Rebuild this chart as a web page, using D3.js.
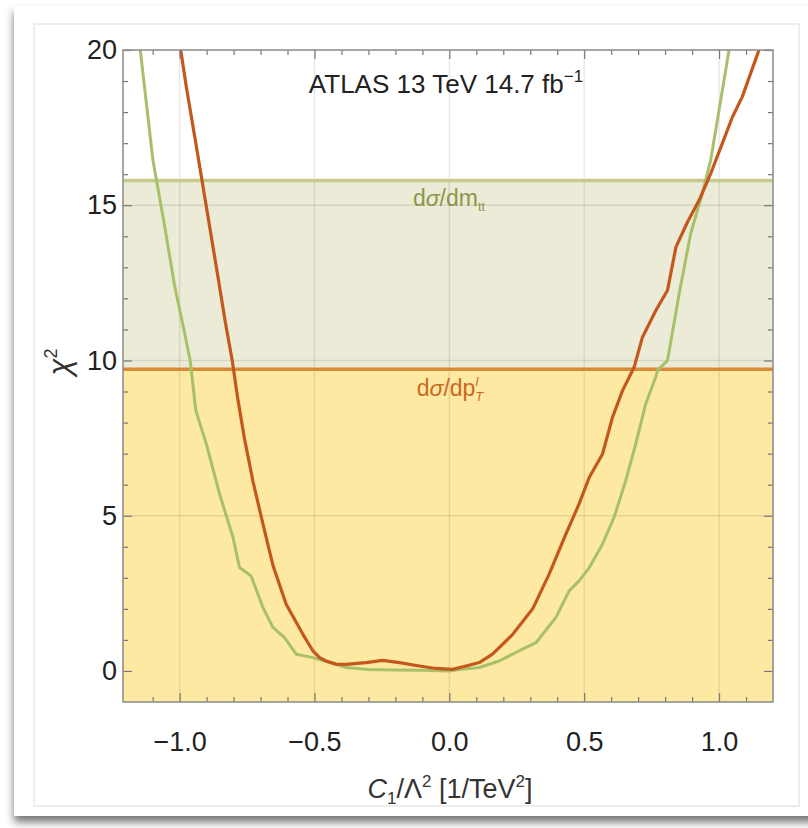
<!DOCTYPE html>
<html>
<head>
<meta charset="utf-8">
<script src="https://cdn.jsdelivr.net/npm/d3@7"></script>
<style>
  body { margin: 0; background: #ffffff; }
  svg text { font-family: "Liberation Sans", Arial, sans-serif; }
</style>
</head>
<body>
<div id="chart"></div>
<script>
// chi^2 scan vs C1/Lambda^2 for two ATLAS distributions

// dsigma/dp_T^l (orange)
var ptX = [-0.996, -0.975, -0.94, -0.9, -0.86, -0.83, -0.805, -0.785, -0.76, -0.728,
           -0.691, -0.654, -0.605, -0.543, -0.506, -0.481, -0.457, -0.42, -0.383, -0.309,
           -0.247, -0.185, -0.111, -0.05, 0.012, 0.062, 0.111, 0.16, 0.235, 0.309,
           0.37, 0.432, 0.481, 0.519, 0.568, 0.605, 0.642, 0.685, 0.716, 0.765,
           0.809, 0.84, 0.883, 0.926, 0.969, 1.05, 1.086, 1.148];
var ptChi2 = [20, 18.8, 17.0, 14.9, 12.8, 11.2, 10.0, 8.8, 7.5, 6.1,
              4.73, 3.4, 2.15, 1.18, 0.65, 0.43, 0.32, 0.22, 0.21, 0.27,
              0.34, 0.27, 0.16, 0.08, 0.05, 0.16, 0.27, 0.54, 1.18, 2.0,
              3.12, 4.41, 5.38, 6.24, 6.99, 8.17, 9.03, 9.78, 10.75, 11.6,
              12.26, 13.65, 14.46, 15.16, 16.02, 17.85, 18.49, 20];

// dsigma/dm_tt (green)
var mttX = [-1.146, -1.099, -1.056, -1.019, -0.981, -0.961, -0.94, -0.901, -0.852, -0.802,
            -0.778, -0.735, -0.691, -0.654, -0.611, -0.568, -0.506, -0.444, -0.383, -0.3,
            -0.2, -0.1, 0.0, 0.037, 0.111, 0.185, 0.259, 0.321, 0.395, 0.444,
            0.481, 0.519, 0.568, 0.611, 0.654, 0.691, 0.728, 0.765, 0.772, 0.809,
            0.852, 0.895, 0.938, 0.969, 1.037];
var mttChi2 = [20, 16.45, 14.35, 12.42, 10.86, 10.0, 8.39, 7.31, 5.7, 4.3,
               3.33, 3.06, 2.04, 1.4, 1.07, 0.54, 0.43, 0.27, 0.11, 0.05,
               0.03, 0.02, 0.0, 0.05, 0.11, 0.32, 0.65, 0.91, 1.72, 2.58,
               2.9, 3.33, 4.09, 4.95, 6.13, 7.31, 8.6, 9.46, 9.68, 10.0,
               12.15, 14.09, 15.38, 16.45, 20];

// exclusion thresholds
var bandNames = ["mtt", "pt"];
var bandLimits = [15.8, 9.72];

var xMajor = [-1.0, -0.5, 0.0, 0.5, 1.0];
var xMinor = [-1.1, -0.9, -0.8, -0.7, -0.6, -0.4, -0.3, -0.2, -0.1,
              0.1, 0.2, 0.3, 0.4, 0.6, 0.7, 0.8, 0.9, 1.1];
var yMajor = [0, 5, 10, 15, 20];
var yMinor = [1, 2, 3, 4, 6, 7, 8, 9, 11, 12, 13, 14, 16, 17, 18, 19];

var W = 808, H = 828;
var pLeft = 123, pRight = 773, pTop = 50, pBottom = 702;

var svg = d3.select("#chart").append("svg")
    .attr("width", W).attr("height", H);

// card with shadow
var defs = svg.append("defs");
var f = defs.append("filter").attr("id", "shadow")
    .attr("x", "-5%").attr("y", "-5%").attr("width", "110%").attr("height", "110%");
f.append("feDropShadow").attr("dx", 0).attr("dy", 6).attr("stdDeviation", 4)
    .attr("flood-color", "#000").attr("flood-opacity", 0.55);
defs.append("clipPath").attr("id", "plotclip").append("rect")
    .attr("x", pLeft).attr("y", pTop).attr("width", pRight - pLeft).attr("height", pBottom - pTop);

svg.append("rect").attr("x", 14).attr("y", 6).attr("width", 820).attr("height", 810)
    .attr("fill", "#fff").attr("filter", "url(#shadow)");
svg.append("rect").attr("x", 34).attr("y", 24).attr("width", 765).attr("height", 782)
    .attr("fill", "none").attr("stroke", "#e2e2e2").attr("stroke-width", 1.2);

var x = d3.scaleLinear().domain([-1.21, 1.2]).range([pLeft, pRight]);
var y = d3.scaleLinear().domain([-1, 20]).range([pBottom, pTop]);

var plot = svg.append("g").attr("clip-path", "url(#plotclip)");

// shaded regions
plot.append("rect").attr("x", pLeft).attr("width", pRight - pLeft)
    .attr("y", y(bandLimits[0])).attr("height", y(bandLimits[1]) - y(bandLimits[0]))
    .attr("fill", "#ecebd8");
plot.append("rect").attr("x", pLeft).attr("width", pRight - pLeft)
    .attr("y", y(bandLimits[1])).attr("height", pBottom - y(bandLimits[1]))
    .attr("fill", "#fee9a3");

// grid
plot.selectAll(".vgrid").data(xMajor).enter().append("line")
    .attr("x1", d => x(d)).attr("x2", d => x(d)).attr("y1", pTop).attr("y2", pBottom)
    .attr("stroke", "rgba(0,0,0,0.09)").attr("stroke-width", 1.5);
plot.selectAll(".hgrid").data([5, 10, 15]).enter().append("line")
    .attr("y1", d => y(d)).attr("y2", d => y(d)).attr("x1", pLeft).attr("x2", pRight)
    .attr("stroke", "rgba(0,0,0,0.09)").attr("stroke-width", 1.5);

// threshold lines
var bandColors = ["#c8c98a", "#da8a37"];
plot.selectAll(".limit").data(bandLimits).enter().append("line")
    .attr("y1", d => y(d)).attr("y2", d => y(d)).attr("x1", pLeft).attr("x2", pRight)
    .attr("stroke", (d, i) => bandColors[i]).attr("stroke-width", 3.5);

// curves
var line = d3.line().x(d => x(d[0])).y(d => y(d[1]));
plot.append("path").datum(d3.zip(mttX, mttChi2))
    .attr("d", line).attr("fill", "none")
    .attr("stroke", "#a8c068").attr("stroke-width", 3).attr("stroke-linejoin", "round");
plot.append("path").datum(d3.zip(ptX, ptChi2))
    .attr("d", line).attr("fill", "none")
    .attr("stroke", "#c4581c").attr("stroke-width", 3.2).attr("stroke-linejoin", "round");

// frame ticks (inward), all four sides
var tickCol = "#777";
function styleAxis(g) {
    g.select(".domain").remove();
    g.selectAll(".tick line").attr("stroke", tickCol).attr("stroke-width", 1.2);
}
var fmtX = d3.format(".1f");
var gx = svg.append("g").attr("transform", "translate(0," + pBottom + ")")
    .call(d3.axisBottom(x).tickValues(xMajor).tickSize(-9).tickPadding(30).tickFormat(fmtX));
styleAxis(gx);
gx.selectAll(".tick text").attr("font-size", 27).attr("fill", "#222");
svg.append("g").attr("transform", "translate(0," + pBottom + ")")
    .call(d3.axisBottom(x).tickValues(xMinor).tickSize(-5).tickFormat("")).call(styleAxis);
svg.append("g").attr("transform", "translate(0," + pTop + ")")
    .call(d3.axisTop(x).tickValues(xMajor).tickSize(-9).tickFormat("")).call(styleAxis);
svg.append("g").attr("transform", "translate(0," + pTop + ")")
    .call(d3.axisTop(x).tickValues(xMinor).tickSize(-5).tickFormat("")).call(styleAxis);

var gy = svg.append("g").attr("transform", "translate(" + pLeft + ",0)")
    .call(d3.axisLeft(y).tickValues(yMajor).tickSize(-9).tickPadding(6));
styleAxis(gy);
gy.selectAll(".tick text").attr("font-size", 27).attr("fill", "#222");
svg.append("g").attr("transform", "translate(" + pLeft + ",0)")
    .call(d3.axisLeft(y).tickValues(yMinor).tickSize(-5).tickFormat("")).call(styleAxis);
svg.append("g").attr("transform", "translate(" + pRight + ",0)")
    .call(d3.axisRight(y).tickValues(yMajor).tickSize(-9).tickFormat("")).call(styleAxis);
svg.append("g").attr("transform", "translate(" + pRight + ",0)")
    .call(d3.axisRight(y).tickValues(yMinor).tickSize(-5).tickFormat("")).call(styleAxis);

svg.append("rect").attr("x", pLeft).attr("y", pTop)
    .attr("width", pRight - pLeft).attr("height", pBottom - pTop)
    .attr("fill", "none").attr("stroke", "#8a8a8a").attr("stroke-width", 1.5);

// texts
var t = svg.append("text").attr("x", 446).attr("y", 93).attr("text-anchor", "middle")
    .attr("font-size", 26).attr("fill", "#222");
t.append("tspan").text("ATLAS 13 TeV 14.7 fb");
t.append("tspan").attr("font-size", 17).attr("dy", -11).text("\u22121");

var l1 = svg.append("text").attr("x", 449).attr("y", 206).attr("text-anchor", "middle")
    .attr("font-size", 23).attr("fill", "#8c9648");
l1.append("tspan").text("d");
l1.append("tspan").attr("font-style", "italic").text("\u03c3");
l1.append("tspan").text("/dm");
l1.append("tspan").attr("font-size", 13).attr("dy", 5).text("tt");

var l2 = svg.append("text").attr("x", 450).attr("y", 396).attr("text-anchor", "middle")
    .attr("font-size", 23).attr("fill", "#c8691c");
l2.append("tspan").text("d");
l2.append("tspan").attr("font-style", "italic").text("\u03c3");
l2.append("tspan").text("/dp");
l2.append("tspan").attr("font-size", 13).attr("font-style", "italic").attr("dy", -10).text("l");
l2.append("tspan").attr("font-size", 13).attr("font-style", "italic").attr("dx", -3).attr("dy", 15).text("T");

var xt = svg.append("text").attr("x", 450).attr("y", 798).attr("text-anchor", "middle")
    .attr("font-size", 27).attr("fill", "#333");
xt.append("tspan").attr("font-style", "italic").text("C");
xt.append("tspan").attr("font-size", 17).attr("dy", 6).text("1");
xt.append("tspan").attr("dy", -6).text("/\u039b");
xt.append("tspan").attr("font-size", 17).attr("dy", -11).text("2");
xt.append("tspan").attr("dy", 11).text(" [1/TeV");
xt.append("tspan").attr("font-size", 17).attr("dy", -11).text("2");
xt.append("tspan").attr("dy", 11).text("]");

var yt = svg.append("text").attr("transform", "translate(70,362) rotate(-90)")
    .attr("text-anchor", "middle").attr("font-size", 31).attr("fill", "#333");
yt.append("tspan").attr("font-style", "italic").text("\u03c7");
yt.append("tspan").attr("font-size", 18).attr("dy", -13).text("2");
</script>
</body>
</html>
